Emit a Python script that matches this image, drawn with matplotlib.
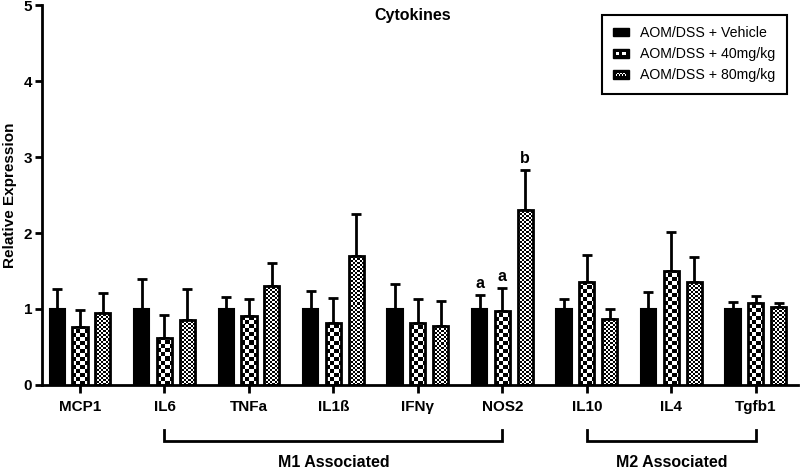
import numpy as np
import matplotlib
matplotlib.use("Agg")
import matplotlib.pyplot as plt
from matplotlib.patches import Patch, Rectangle
from matplotlib.legend_handler import HandlerBase
import math

plt.rcParams['font.family'] = ['Liberation Sans', 'DejaVu Sans']

categories = ["MCP1", "IL6", "TNFa", "IL1ß", "IFNγ", "NOS2", "IL10", "IL4", "Tgfb1"]
series_names = ["AOM/DSS + Vehicle", "AOM/DSS + 40mg/kg", "AOM/DSS + 80mg/kg"]
vehicle = [1.0, 1.0, 1.0, 1.0, 1.0, 1.0, 1.0, 1.0, 1.0]
vehicle_top = [1.26, 1.39, 1.16, 1.24, 1.33, 1.18, 1.13, 1.23, 1.09]
mg40 = [0.76, 0.62, 0.91, 0.82, 0.81, 0.98, 1.35, 1.50, 1.08]
mg40_top = [0.99, 0.92, 1.13, 1.14, 1.13, 1.28, 1.71, 2.01, 1.17]
mg80 = [0.95, 0.85, 1.30, 1.70, 0.78, 2.30, 0.87, 1.35, 1.03]
mg80_top = [1.21, 1.26, 1.60, 2.25, 1.10, 2.83, 1.00, 1.68, 1.08]
sig_labels = {(5, 0): "a", (5, 1): "a", (5, 2): "b"}
groups = [("M1 Associated", 1, 5), ("M2 Associated", 6, 8)]

fig = plt.figure(figsize=(8, 4.7), dpi=100)
ax = fig.add_axes([42/800, 1-385/470, (798-42)/800, 380/470])
ax.set_xlim(-0.45, 8.5)
ax.set_ylim(0, 5)

x = np.arange(len(categories))
off = 0.27
w = 0.18
means = [vehicle, mg40, mg80]
tops = [vehicle_top, mg40_top, mg80_top]
cells = [None, 4.0, 2.0]

for s in range(3):
    xs = x + (s - 1) * off
    vals = np.array(means[s])
    errs = np.array(tops[s]) - vals
    ax.errorbar(xs, vals, yerr=[np.zeros_like(errs), errs], fmt='none',
                ecolor='black', elinewidth=2, capsize=3.5, capthick=2, zorder=1)
    if s == 0:
        ax.bar(xs, vals, width=w, color='black', edgecolor='black', linewidth=1.5, zorder=2)
    else:
        bars = ax.bar(xs, vals, width=w, color='white', edgecolor='black', linewidth=2, zorder=3)
        p0 = ax.transData.transform((0, 0))
        p1 = ax.transData.transform((1, 1))
        pxx = p1[0] - p0[0]
        pxy = p1[1] - p0[1]
        c = cells[s]
        for b, xi, v in zip(bars, xs, vals):
            x0 = xi - w / 2
            nx = int(math.ceil(w * pxx / c)) + 1
            ny = int(math.ceil(v * pxy / c)) + 1
            arr = (np.add.outer(np.arange(ny), np.arange(nx)) % 2).astype(float)
            im = ax.imshow(arr, cmap='gray', vmin=0, vmax=1, interpolation='nearest',
                           extent=[x0, x0 + nx * c / pxx, 0, ny * c / pxy],
                           origin='lower', aspect='auto', zorder=2.5)
            im.set_clip_path(b)
        for b in bars:
            b.set_facecolor('none')

for (ci, s), lab in sig_labels.items():
    xi = ci + (s - 1) * off
    ax.annotate(lab, (xi, tops[s][ci]), xytext=(0, 3), textcoords='offset points',
                ha='center', va='bottom', fontsize=11.5, fontweight='bold')

ax.set_xticks(x)
ax.set_xticklabels(categories, fontsize=11, fontweight='bold')
ax.set_yticks(range(6))
ax.set_yticklabels([str(i) for i in range(6)], fontsize=11, fontweight='bold')
ax.tick_params(axis='both', width=2, length=5, direction='out', pad=2)
ax.tick_params(axis='x', length=6, pad=5)
for sp in ['top', 'right']:
    ax.spines[sp].set_visible(False)
for sp in ['left', 'bottom']:
    ax.spines[sp].set_linewidth(2)
ax.set_ylabel("Relative Expression", fontsize=11, fontweight='bold', labelpad=5)
ax.text(0.49, 0.993, "Cytokines", transform=ax.transAxes, ha='center', va='top',
        fontsize=11.5, fontweight='bold')

trans = ax.get_xaxis_transform()
for name, a, b in groups:
    ax.plot([a, a, b, b], [-0.118, -0.147, -0.147, -0.118], transform=trans,
            color='black', lw=2, clip_on=False, solid_joinstyle='miter')
    ax.text((a + b) / 2, -0.205, name, transform=trans, ha='center', va='center',
            fontsize=11.5, fontweight='bold')


class CheckerHandler(HandlerBase):
    def __init__(self, cell):
        super().__init__()
        self.cell = cell

    def create_artists(self, legend, orig_handle, xdescent, ydescent, width, height,
                       fontsize, trans):
        arts = [Rectangle((-xdescent, -ydescent), width, height, facecolor='black',
                          edgecolor='black', lw=1, transform=trans)]
        if self.cell:
            c = self.cell
            bw = 1.5
            nx = int((width - 2 * bw) // c)
            ny = int((height - 2 * bw) // c)
            x0 = -xdescent + (width - nx * c) / 2
            y0 = -ydescent + (height - ny * c) / 2
            for i in range(nx):
                for j in range(ny):
                    if (i + j) % 2 == 0:
                        arts.append(Rectangle((x0 + i * c, y0 + j * c), c, c,
                                              facecolor='white', edgecolor='none',
                                              transform=trans))
        return arts


handles = [Patch(facecolor='black'), Patch(facecolor='gray'), Patch(facecolor='silver')]
leg = ax.legend(handles, series_names, loc='upper right', bbox_to_anchor=(0.985, 0.974),
                borderaxespad=0, fontsize=10.2, fancybox=False, edgecolor='black',
                framealpha=1, handlelength=1.1, handleheight=0.55, labelspacing=0.5,
                borderpad=0.8, handletextpad=0.8,
                handler_map={handles[0]: CheckerHandler(None),
                             handles[1]: CheckerHandler(2.2),
                             handles[2]: CheckerHandler(1.1)})
leg.get_frame().set_linewidth(1.5)

fig.savefig("out.png", dpi=100)
